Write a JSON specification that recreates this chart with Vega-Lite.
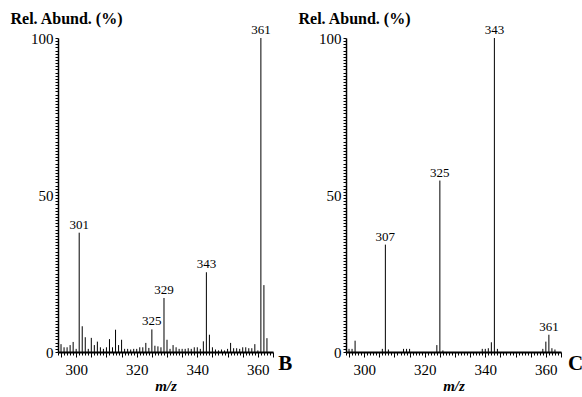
{
  "$schema": "https://vega.github.io/schema/vega-lite/v6.json",
  "padding": {"left": 10, "top": 10, "right": 2, "bottom": 0},
  "background": "white",
  "config": {
    "view": {"stroke": null},
    "font": "Liberation Serif",
    "text": {"font": "Liberation Serif"},
    "axis": {
      "grid": false,
      "domainColor": "#000",
      "tickColor": "#000",
      "labelColor": "#000",
      "titleColor": "#000",
      "labelFont": "Liberation Serif",
      "titleFont": "Liberation Serif",
      "labelFontSize": 15,
      "titleFontSize": 16,
      "labelOverlap": false,
      "labelFlush": false
    }
  },
  "datasets": {
    "B": [
      {"mz": 295, "ab": 2.5}, {"mz": 296, "ab": 1.5}, {"mz": 297, "ab": 1.5}, {"mz": 298, "ab": 2.2}, {"mz": 299, "ab": 3.2},
      {"mz": 300, "ab": 1}, {"mz": 301, "ab": 38, "lab": "301"}, {"mz": 302, "ab": 8.2}, {"mz": 303, "ab": 4.7}, {"mz": 304, "ab": 1},
      {"mz": 305, "ab": 4.5}, {"mz": 306, "ab": 2.2}, {"mz": 307, "ab": 3.3}, {"mz": 308, "ab": 1.5}, {"mz": 309, "ab": 1},
      {"mz": 310, "ab": 1.5}, {"mz": 311, "ab": 4.1}, {"mz": 312, "ab": 1.5}, {"mz": 313, "ab": 7.1}, {"mz": 314, "ab": 2.2},
      {"mz": 315, "ab": 3.9}, {"mz": 316, "ab": 1}, {"mz": 317, "ab": 1}, {"mz": 318, "ab": 0.8}, {"mz": 319, "ab": 1},
      {"mz": 320, "ab": 1}, {"mz": 321, "ab": 1.5}, {"mz": 322, "ab": 1.5}, {"mz": 323, "ab": 2.9}, {"mz": 324, "ab": 1.3},
      {"mz": 325, "ab": 7.2, "lab": "325"}, {"mz": 326, "ab": 2}, {"mz": 327, "ab": 1.8}, {"mz": 328, "ab": 1.5},
      {"mz": 329, "ab": 17.2, "lab": "329"}, {"mz": 330, "ab": 3.9}, {"mz": 331, "ab": 1}, {"mz": 332, "ab": 2.2},
      {"mz": 333, "ab": 1.5}, {"mz": 334, "ab": 1}, {"mz": 335, "ab": 1}, {"mz": 336, "ab": 1}, {"mz": 337, "ab": 1.2},
      {"mz": 338, "ab": 1}, {"mz": 339, "ab": 1.5}, {"mz": 340, "ab": 1.5}, {"mz": 341, "ab": 1}, {"mz": 342, "ab": 3.4},
      {"mz": 343, "ab": 25.4, "lab": "343"}, {"mz": 344, "ab": 5.5}, {"mz": 345, "ab": 1.5}, {"mz": 346, "ab": 0.8},
      {"mz": 347, "ab": 0.5}, {"mz": 348, "ab": 0.8}, {"mz": 349, "ab": 0.5}, {"mz": 350, "ab": 1}, {"mz": 351, "ab": 2.9},
      {"mz": 352, "ab": 1.2}, {"mz": 353, "ab": 1.2}, {"mz": 354, "ab": 1}, {"mz": 355, "ab": 1.5}, {"mz": 356, "ab": 1.5},
      {"mz": 357, "ab": 1.2}, {"mz": 358, "ab": 1.2}, {"mz": 359, "ab": 2.5}, {"mz": 360, "ab": 0.5},
      {"mz": 361, "ab": 100, "lab": "361"}, {"mz": 362, "ab": 21.3}, {"mz": 363, "ab": 4.4}
    ],
    "C": [
      {"mz": 295, "ab": 1}, {"mz": 296, "ab": 1}, {"mz": 297, "ab": 3.6}, {"mz": 306, "ab": 1},
      {"mz": 307, "ab": 34.2, "lab": "307"}, {"mz": 308, "ab": 0.8}, {"mz": 313, "ab": 1}, {"mz": 314, "ab": 1},
      {"mz": 315, "ab": 1}, {"mz": 324, "ab": 2.2}, {"mz": 325, "ab": 54.6, "lab": "325"}, {"mz": 326, "ab": 0.5},
      {"mz": 339, "ab": 1}, {"mz": 340, "ab": 1}, {"mz": 341, "ab": 1.2}, {"mz": 342, "ab": 3.1},
      {"mz": 343, "ab": 100, "lab": "343"}, {"mz": 344, "ab": 1}, {"mz": 359, "ab": 1}, {"mz": 360, "ab": 3.3},
      {"mz": 361, "ab": 5.5, "lab": "361"}, {"mz": 362, "ab": 1.2}, {"mz": 363, "ab": 0.8}
    ]
  },
  "bounds": "flush",
  "spacing": 73,
  "hconcat": [
    {
      "width": 215,
      "height": 314,
      "layer": [
        {"data": {"name": "B"},
          "mark": {"type": "rule", "color": "#000", "strokeWidth": 1},
          "encoding": {
            "x": {"field": "mz", "type": "quantitative",
              "scale": {"domain": [294, 365], "nice": false, "zero": false},
              "axis": {"title": "m/z", "titleFontSize": 15, "titleFontStyle": "italic", "titleFontWeight": "bold", "titlePadding": 1,
                "tickCount": 71, "labelExpr": "datum.value % 20 === 0 ? datum.label : ''",
                "tickSize": {"condition": {"test": "datum.value % 5 === 0", "value": 5}, "value": 3},
                "domainWidth": 2.2, "labelPadding": 5}},
            "y": {"field": "ab", "type": "quantitative",
              "scale": {"domain": [0, 100], "nice": false},
              "axis": {"title": "Rel. Abund. (%)", "titleAngle": 0, "titleAlign": "left", "titleBaseline": "alphabetic",
                "titleX": -48, "titleY": -15, "titleFontWeight": "bold",
                "tickCount": 100, "labelExpr": "datum.value % 50 === 0 ? datum.label : ''",
                "tickSize": 3, "domainWidth": 1.5, "labelPadding": 2}},
            "y2": {"datum": 0}
          }},
        {"data": {"name": "B"},
          "transform": [{"filter": "isValid(datum.lab)"}],
          "mark": {"type": "text", "dy": -8, "fontSize": 13, "color": "#000", "font": "Liberation Serif"},
          "encoding": {
            "x": {"field": "mz", "type": "quantitative"},
            "y": {"field": "ab", "type": "quantitative"},
            "text": {"field": "lab"}}},
        {"data": {"values": [{"panel": "B"}]},
          "mark": {"type": "text", "fontSize": 21, "fontWeight": "bold", "align": "left", "baseline": "middle", "color": "#000", "clip": false, "font": "Liberation Serif"},
          "encoding": {"x": {"datum": 366.7, "type": "quantitative"}, "y": {"datum": -3.8, "type": "quantitative"}, "text": {"field": "panel"}}}
      ]
    },
    {
      "width": 215,
      "height": 314,
      "layer": [
        {"data": {"name": "C"},
          "mark": {"type": "rule", "color": "#000", "strokeWidth": 1},
          "encoding": {
            "x": {"field": "mz", "type": "quantitative",
              "scale": {"domain": [294, 365], "nice": false, "zero": false},
              "axis": {"title": "m/z", "titleFontSize": 15, "titleFontStyle": "italic", "titleFontWeight": "bold", "titlePadding": 1,
                "tickCount": 71, "labelExpr": "datum.value % 20 === 0 ? datum.label : ''",
                "tickSize": {"condition": {"test": "datum.value % 5 === 0", "value": 5}, "value": 3},
                "domainWidth": 2.2, "labelPadding": 5}},
            "y": {"field": "ab", "type": "quantitative",
              "scale": {"domain": [0, 100], "nice": false},
              "axis": {"title": "Rel. Abund. (%)", "titleAngle": 0, "titleAlign": "left", "titleBaseline": "alphabetic",
                "titleX": -48, "titleY": -15, "titleFontWeight": "bold",
                "tickCount": 100, "labelExpr": "datum.value % 50 === 0 ? datum.label : ''",
                "tickSize": 3, "domainWidth": 1.5, "labelPadding": 2}},
            "y2": {"datum": 0}
          }},
        {"data": {"name": "C"},
          "transform": [{"filter": "isValid(datum.lab)"}],
          "mark": {"type": "text", "dy": -8, "fontSize": 13, "color": "#000", "font": "Liberation Serif"},
          "encoding": {
            "x": {"field": "mz", "type": "quantitative"},
            "y": {"field": "ab", "type": "quantitative"},
            "text": {"field": "lab"}}},
        {"data": {"values": [{"panel": "C"}]},
          "mark": {"type": "text", "fontSize": 21, "fontWeight": "bold", "align": "left", "baseline": "middle", "color": "#000", "clip": false, "font": "Liberation Serif"},
          "encoding": {"x": {"datum": 367.3, "type": "quantitative"}, "y": {"datum": -3.8, "type": "quantitative"}, "text": {"field": "panel"}}}
      ]
    }
  ]
}
